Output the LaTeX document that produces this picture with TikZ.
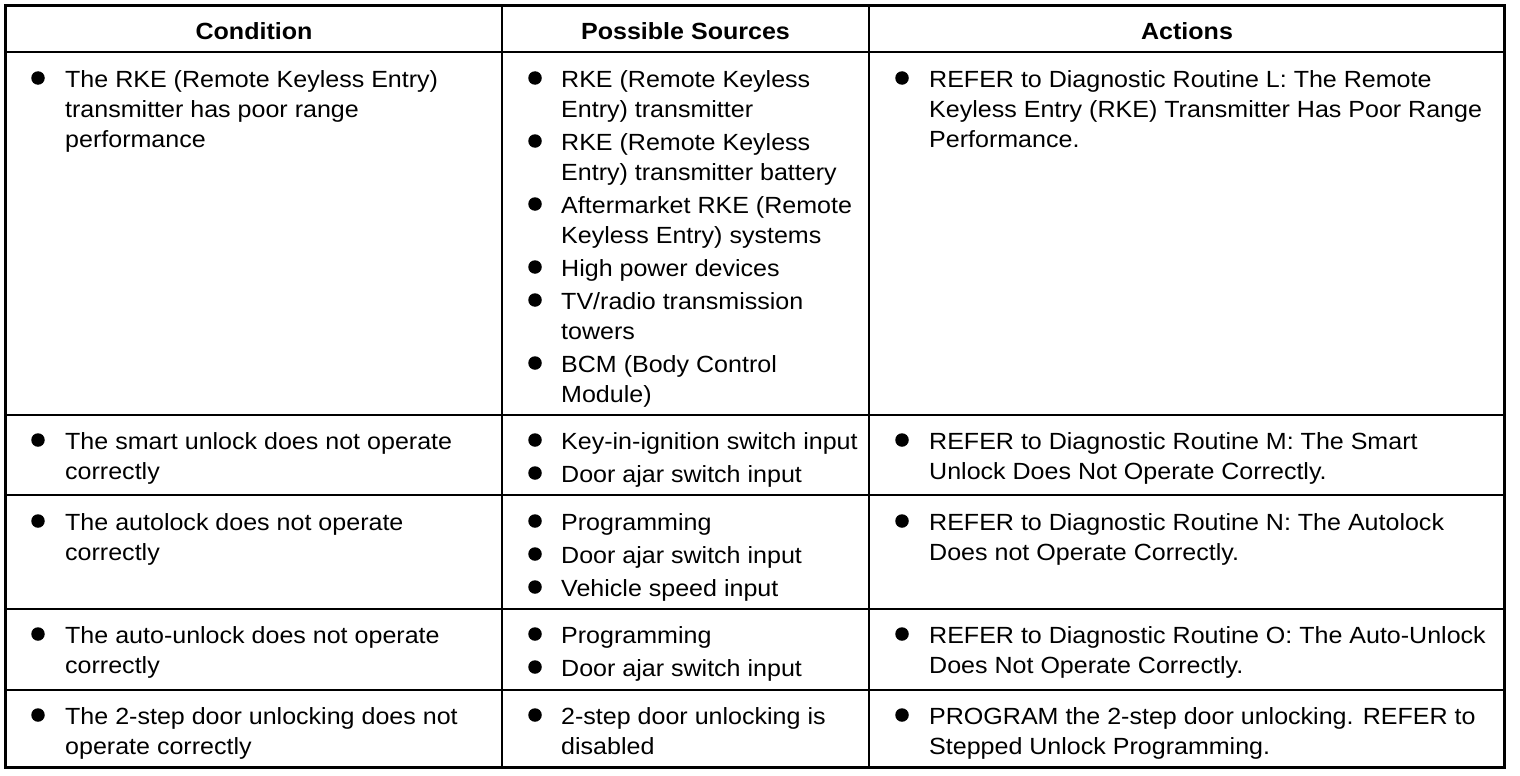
\documentclass[tikz,border=0pt]{standalone}
\usepackage{fontspec}
\setmainfont{Liberation Sans}[FakeStretch=1.07]
\begin{document}
\begin{tikzpicture}[x=1pt,y=-1pt]
\tikzset{
 txt/.style={anchor=base west, inner sep=0pt, yshift=-1.5pt, font=\fontsize{23.4}{28}\selectfont},
 hdr/.style={anchor=base, inner sep=0pt, font=\fontsize{23.4}{28}\selectfont\bfseries},
 bul/.style={circle, fill=black, inner sep=0pt, minimum size=13.5pt},
 outerline/.style={line width=3.5pt},
 gridline/.style={line width=1.6pt}
}
\fill[white] (0,0) rectangle (1520,776);
\useasboundingbox (0,0) rectangle (1520,776);
% grid
\draw[gridline] (5,52) -- (1505,52);
\draw[gridline] (5,415) -- (1505,415);
\draw[gridline] (5,495) -- (1505,495);
\draw[gridline] (5,609) -- (1505,609);
\draw[gridline] (5,690) -- (1505,690);
\draw[gridline] (502,5) -- (502,768);
\draw[gridline] (869,5) -- (869,768);
\draw[outerline] (5.5,5.5) rectangle (1504.5,767.5);
% header
\node[hdr] (h1) at (254,40) {Condition};
\node[hdr] (h2) at (685.5,40) {Possible Sources};
\node[hdr] (h3) at (1187,40) {Actions};
% row 1
\node[bul] (b11) at (38,78) {};
\node[txt] (c11a) at (65,85.5) {The RKE (Remote Keyless Entry)};
\node[txt] (c11b) at (65,115.5) {transmitter has poor range};
\node[txt] (c11c) at (65,145.5) {performance};
\node[bul] (s11) at (535,78) {};
\node[txt] (s11a) at (561,85.5) {RKE (Remote Keyless};
\node[txt] (s11b) at (561,115.5) {Entry) transmitter};
\node[bul] (s12) at (535,141) {};
\node[txt] (s12a) at (561,148.5) {RKE (Remote Keyless};
\node[txt] (s12b) at (561,178.5) {Entry) transmitter battery};
\node[bul] (s13) at (535,204) {};
\node[txt] (s13a) at (561,211.5) {Aftermarket RKE (Remote};
\node[txt] (s13b) at (561,241.5) {Keyless Entry) systems};
\node[bul] (s14) at (535,267) {};
\node[txt] (s14a) at (561,274.5) {High power devices};
\node[bul] (s15) at (535,300) {};
\node[txt] (s15a) at (561,307.5) {TV/radio transmission};
\node[txt] (s15b) at (561,337.5) {towers};
\node[bul] (s16) at (535,363) {};
\node[txt] (s16a) at (561,370.5) {BCM (Body Control};
\node[txt] (s16b) at (561,400.5) {Module)};
\node[bul] (a11) at (902,78) {};
\node[txt] (a11a) at (929,85.5) {REFER to Diagnostic Routine L: The Remote};
\node[txt] (a11b) at (929,115.5) {Keyless Entry (RKE) Transmitter Has Poor Range};
\node[txt] (a11c) at (929,145.5) {Performance.};
% row 2
\node[bul] (b21) at (38,440) {};
\node[txt] (c21a) at (65,447.5) {The smart unlock does not operate};
\node[txt] (c21b) at (65,477.5) {correctly};
\node[bul] (s21) at (535,440) {};
\node[txt] (s21a) at (561,447.5) {Key-in-ignition switch input};
\node[bul] (s22) at (535,473) {};
\node[txt] (s22a) at (561,480.5) {Door ajar switch input};
\node[bul] (a21) at (902,440) {};
\node[txt] (a21a) at (929,447.5) {REFER to Diagnostic Routine M: The Smart};
\node[txt] (a21b) at (929,477.5) {Unlock Does Not Operate Correctly.};
% row 3
\node[bul] (b31) at (38,521) {};
\node[txt] (c31a) at (65,528.5) {The autolock does not operate};
\node[txt] (c31b) at (65,558.5) {correctly};
\node[bul] (s31) at (535,521) {};
\node[txt] (s31a) at (561,528.5) {Programming};
\node[bul] (s32) at (535,554) {};
\node[txt] (s32a) at (561,561.5) {Door ajar switch input};
\node[bul] (s33) at (535,587) {};
\node[txt] (s33a) at (561,594.5) {Vehicle speed input};
\node[bul] (a31) at (902,521) {};
\node[txt] (a31a) at (929,528.5) {REFER to Diagnostic Routine N: The Autolock};
\node[txt] (a31b) at (929,558.5) {Does not Operate Correctly.};
% row 4
\node[bul] (b41) at (38,634) {};
\node[txt] (c41a) at (65,641.5) {The auto-unlock does not operate};
\node[txt] (c41b) at (65,671.5) {correctly};
\node[bul] (s41) at (535,634) {};
\node[txt] (s41a) at (561,641.5) {Programming};
\node[bul] (s42) at (535,667) {};
\node[txt] (s42a) at (561,674.5) {Door ajar switch input};
\node[bul] (a41) at (902,634) {};
\node[txt] (a41a) at (929,641.5) {REFER to Diagnostic Routine O: The Auto-Unlock};
\node[txt] (a41b) at (929,671.5) {Does Not Operate Correctly.};
% row 5
\node[bul] (b51) at (38,715) {};
\node[txt] (c51a) at (65,722.5) {The 2-step door unlocking does not};
\node[txt] (c51b) at (65,752.5) {operate correctly};
\node[bul] (s51) at (535,715) {};
\node[txt] (s51a) at (561,722.5) {2-step door unlocking is};
\node[txt] (s51b) at (561,752.5) {disabled};
\node[bul] (a51) at (902,715) {};
\node[txt] (a51a) at (929,722.5) {PROGRAM the 2-step door unlocking. REFER to};
\node[txt] (a51b) at (929,752.5) {Stepped Unlock Programming.};
\end{tikzpicture}
\end{document}
